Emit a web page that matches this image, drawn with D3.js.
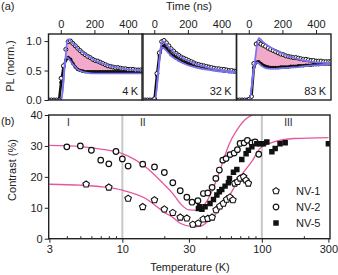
<!DOCTYPE html>
<html>
<head>
<meta charset="utf-8">
<script src="https://cdn.jsdelivr.net/npm/d3@7"></script>
<style>
    body { margin: 0; background: #fff; }
    svg text { font-family: "Liberation Sans", Arial, sans-serif; fill: #222; }
</style>
</head>
<body>
<svg id="chart" width="338" height="275"></svg>
<script>
// ---- (a) PL transients ----
var timeNs = [-70, -55, -40, -25, -10, 2, 16, 30, 44, 58, 72, 86, 100, 115, 130, 145, 160, 175, 190, 205,
    220, 235, 250, 265, 280, 295, 310, 325, 340, 355, 370, 385, 400, 415, 430, 445, 460, 475, 488];

var pl4kUpper = [0, 0, 0, 0, 0, 0.37, 0.58, 0.86, 0.99, 1.0, 0.96, 0.92, 0.88, 0.84, 0.80, 0.77, 0.74, 0.72, 0.69, 0.67,
    0.66, 0.64, 0.62, 0.60, 0.58, 0.57, 0.56, 0.55, 0.55, 0.54, 0.53, 0.53, 0.52, 0.52, 0.52, 0.51, 0.51, 0.51, 0.51];
var pl4kLower = [0, 0, 0, 0, 0, 0.30, 0.55, 0.68, 0.72, 0.69, 0.62, 0.56, 0.52, 0.50, 0.49, 0.48, 0.48, 0.48, 0.48, 0.48,
    0.48, 0.48, 0.48, 0.48, 0.48, 0.48, 0.48, 0.48, 0.48, 0.48, 0.48, 0.48, 0.48, 0.48, 0.48, 0.48, 0.48, 0.48, 0.48];

var pl32kUpper = [0, 0, 0, 0, 0, 0.02, 0.45, 0.80, 0.99, 1.01, 0.97, 0.92, 0.87, 0.83, 0.79, 0.76, 0.73, 0.71, 0.69, 0.67,
    0.65, 0.63, 0.61, 0.60, 0.59, 0.58, 0.57, 0.56, 0.55, 0.54, 0.53, 0.53, 0.52, 0.52, 0.51, 0.50, 0.50, 0.49, 0.49];
var pl32kLower = [0, 0, 0, 0, 0, 0.02, 0.42, 0.75, 0.90, 0.92, 0.87, 0.82, 0.77, 0.74, 0.71, 0.68, 0.66, 0.64, 0.63, 0.62,
    0.61, 0.60, 0.59, 0.58, 0.57, 0.56, 0.55, 0.54, 0.53, 0.52, 0.51, 0.50, 0.50, 0.49, 0.49, 0.48, 0.48, 0.48, 0.48];

var pl83kUpper = [0, 0, 0, 0, 0, 0.01, 0.06, 0.62, 0.95, 0.98, 0.95, 0.93, 0.91, 0.88, 0.86, 0.84, 0.82, 0.80, 0.78, 0.77,
    0.75, 0.74, 0.73, 0.72, 0.72, 0.71, 0.70, 0.69, 0.69, 0.68, 0.67, 0.67, 0.66, 0.66, 0.66, 0.65, 0.65, 0.65, 0.65];
var pl83kLower = [0, 0, 0, 0, 0, 0.01, 0.06, 0.55, 0.64, 0.65, 0.62, 0.59, 0.57, 0.56, 0.55, 0.55, 0.55, 0.55, 0.56, 0.56,
    0.56, 0.56, 0.57, 0.57, 0.57, 0.58, 0.58, 0.58, 0.59, 0.59, 0.59, 0.60, 0.60, 0.60, 0.61, 0.61, 0.61, 0.61, 0.61];

var fitTimeNs = [-73, 3, 30, 40, 50, 60, 80, 100, 130, 160, 200, 250, 300, 350, 400, 450, 489];
var fit4kUpper = [0, 0, 0.78, 1.03, 1.03, 1.0, 0.94, 0.88, 0.81, 0.75, 0.68, 0.62, 0.57, 0.54, 0.52, 0.51, 0.50];
var fit4kLower = [0, 0, 0.72, 0.72, 0.69, 0.65, 0.58, 0.52, 0.48, 0.46, 0.45, 0.45, 0.45, 0.45, 0.45, 0.45, 0.45];
var fit32kUpper = [0, 0, 0.66, 0.92, 1.0, 0.98, 0.92, 0.86, 0.79, 0.73, 0.67, 0.61, 0.57, 0.53, 0.51, 0.49, 0.48];
var fit32kLower = [0, 0, 0.64, 0.87, 0.89, 0.87, 0.81, 0.75, 0.69, 0.64, 0.59, 0.55, 0.52, 0.50, 0.48, 0.47, 0.46];
var fit83kUpper = [0, 0, 0.52, 0.74, 0.96, 1.05, 1.0, 0.95, 0.89, 0.84, 0.79, 0.73, 0.69, 0.66, 0.64, 0.63, 0.62];
var fit83kLower = [0, 0, 0.52, 0.62, 0.64, 0.62, 0.57, 0.54, 0.53, 0.53, 0.54, 0.55, 0.56, 0.58, 0.59, 0.60, 0.61];

var panelLabels = ['4\u2009K', '32\u2009K', '83\u2009K'];
var timeTicks = [0, 200, 400];
var plTicks = [0, 0.5, 1.0];

// ---- (b) contrast vs temperature ----
var nv1Temp = [5.5, 8, 11, 14, 17, 20, 23, 26, 29, 32, 35, 38, 41, 44, 47, 50, 53, 56, 59, 62, 64, 67, 70, 74, 77, 80];
var nv1Contrast = [17.6, 16.6, 13.0, 10.3, 12.5, 9.5, 8.4, 6.9, 6.6, 4.6, 5.0, 6.3, 6.5, 6.9, 9.3, 10.5, 11.4, 12.7, 13.4,
    12.5, 17.9, 18.4, 19.5, 20.0, 18.9, 17.9];

var nv2Temp = [4, 5, 6, 7, 8, 9, 10, 11, 14, 17, 20, 23, 26, 29, 31.6, 34.8, 38.1, 41, 44, 46.8, 49.6, 52.5, 55.4, 59.2,
    63.3, 66.8, 69.8, 74.6, 78.8, 84.8, 89.5, 95];
var nv2Contrast = [29.7, 30, 28.6, 25.4, 24.2, 28.2, 25.8, 23.5, 24.1, 23.2, 21.4, 18.1, 15.5, 13.4, 11.8, 12.3, 14.6,
    14.8, 16.6, 19.5, 22.2, 25.4, 25.9, 27.2, 27.7, 28.8, 30.8, 31, 31.8, 31, 31.3, 27.3];

var nv5Temp = [35.1, 35.8, 37.2, 39.2, 42.5, 45, 47.6, 49.6, 51.6, 54.5, 57.6, 58.6, 62.6, 66.2, 71.8, 77.1, 80.1, 84.8,
    92, 97.2, 102.6, 108.6, 118, 124.6, 135, 147, 300];
var nv5Contrast = [9.8, 10.3, 9.5, 10.3, 11.4, 12.7, 14.1, 15.2, 15.9, 17.0, 18.1, 19.5, 21.5, 22.4, 25.6, 27.5, 28.6,
    29.7, 30.7, 30.7, 30.7, 31.3, 28.1, 29.2, 30.7, 31, 30.7];

var fitHighTemp = [3, 5, 7, 10, 14.7, 19.6, 23, 26, 30, 34.6, 40, 45, 50, 58.6, 66, 75, 85, 100];
var fitHighContrast = [30.2, 29.8, 29.0, 27.5, 23.2, 17.9, 14.6, 11.4, 9.3, 9.2, 11.9, 16.5, 22, 30.8, 35, 38.3, 40, 41];
var fitLowTemp = [3, 5, 7, 10, 14.7, 20, 23, 26, 32, 36, 42, 50, 56, 70, 86, 97, 122, 170, 300];
var fitLowContrast = [17.6, 17.3, 16.8, 15.7, 13, 8.5, 6.9, 5.0, 3.9, 4.0, 6.0, 9.5, 12.5, 20, 25.4, 29.2, 31.3, 32.4, 32.7];

var tempTicks = [3, 10, 30, 100, 300];
var tempMinorTicks = [4, 5, 6, 7, 8, 9, 20, 40, 50, 60, 70, 80, 90, 200];
var contrastTicks = [0, 10, 20, 30, 40];
var regionTemps = [10, 100];
var regionLabels = [{t: 4.1, text: 'I'}, {t: 14, text: 'II'}, {t: 155, text: 'III'}];
var legendItems = ['NV-1', 'NV-2', 'NV-5'];

(function () {
    'use strict';

    var BLUE = '#7b72ee', PINK_FILL = '#f3a9ca', PINK = '#e8559f', INK = '#222';
    var svg = d3.select('#chart');
    var defs = svg.append('defs');

    function zip(xs, ys) {
        return xs.map(function (x, i) { return [x, ys[i]]; });
    }

    function pentagon(r) {
        var p = d3.path();
        for (var k = 0; k < 5; k++) {
            var a = -Math.PI / 2 + k * 2 * Math.PI / 5;
            if (k === 0) p.moveTo(r * Math.cos(a), r * Math.sin(a));
            else p.lineTo(r * Math.cos(a), r * Math.sin(a));
        }
        p.closePath();
        return p.toString();
    }

    // ===== panel (a) =====
    var panelTop = 34, panelBottom = 100, panelW = 94.5;
    var panelLeft = [48.5, 142, 236.5];
    var yPL = d3.scaleLinear().domain([0, 1.12]).range([panelBottom, panelTop]);

    var traces = [
        {upper: pl4kUpper, lower: pl4kLower, fitU: fit4kUpper, fitL: fit4kLower},
        {upper: pl32kUpper, lower: pl32kLower, fitU: fit32kUpper, fitL: fit32kLower},
        {upper: pl83kUpper, lower: pl83kLower, fitU: fit83kUpper, fitL: fit83kLower}
    ];

    traces.forEach(function (tr, i) {
        var x = d3.scaleLinear().domain([-73, 489]).range([panelLeft[i], panelLeft[i] + panelW]);
        var clipId = 'clip-a' + i;
        defs.append('clipPath').attr('id', clipId).append('rect')
            .attr('x', panelLeft[i]).attr('y', panelTop - 2)
            .attr('width', panelW).attr('height', panelBottom - panelTop + 2);

        var g = svg.append('g').attr('clip-path', 'url(#' + clipId + ')');

        var fitPts = fitTimeNs.map(function (t, k) { return {t: t, u: tr.fitU[k], l: tr.fitL[k]}; });
        g.append('path')
            .datum(fitPts)
            .attr('fill', PINK_FILL)
            .attr('d', d3.area()
                .x(function (d) { return x(d.t); })
                .y0(function (d) { return yPL(d.l); })
                .y1(function (d) { return yPL(d.u); })
                .curve(d3.curveMonotoneX));

        // lower trace: dense filled markers
        var lowerPts = zip(timeNs, tr.lower);
        g.append('path')
            .datum(lowerPts)
            .attr('fill', 'none')
            .attr('stroke', '#111')
            .attr('stroke-width', 2.6)
            .attr('d', d3.line()
                .x(function (d) { return x(d[0]); })
                .y(function (d) { return yPL(d[1]); }));
        g.selectAll('.lower-dot')
            .data(lowerPts)
            .enter()
            .append('circle')
            .attr('class', 'lower-dot')
            .attr('cx', function (d) { return x(d[0]); })
            .attr('cy', function (d) { return yPL(d[1]); })
            .attr('r', 1.8)
            .attr('fill', '#111');

        g.selectAll('.upper-dot')
            .data(zip(timeNs, tr.upper))
            .enter()
            .append('circle')
            .attr('class', 'upper-dot')
            .attr('cx', function (d) { return x(d[0]); })
            .attr('cy', function (d) { return yPL(d[1]); })
            .attr('r', 2)
            .attr('fill', '#fff')
            .attr('stroke', '#111')
            .attr('stroke-width', 1);

        [tr.fitU, tr.fitL].forEach(function (vals) {
            g.append('path')
                .datum(zip(fitTimeNs, vals))
                .attr('fill', 'none')
                .attr('stroke', BLUE)
                .attr('stroke-width', 1.7)
                .attr('d', d3.line()
                    .x(function (d) { return x(d[0]); })
                    .y(function (d) { return yPL(d[1]); })
                    .curve(d3.curveMonotoneX));
        });

        // frame
        svg.append('rect')
            .attr('x', panelLeft[i]).attr('y', panelTop)
            .attr('width', panelW).attr('height', panelBottom - panelTop)
            .attr('fill', 'none').attr('stroke', INK).attr('stroke-width', 1.4);

        // top time axis
        var ax = svg.append('g')
            .attr('transform', 'translate(0,' + panelTop + ')')
            .call(d3.axisTop(x).tickValues(timeTicks).tickSize(4).tickPadding(2));
        ax.select('.domain').remove();
        ax.selectAll('line').attr('stroke', INK);
        ax.selectAll('text').attr('font-size', 11).attr('fill', INK);

        svg.append('text')
            .attr('x', panelLeft[i] + panelW - 5)
            .attr('y', panelBottom - 5)
            .attr('text-anchor', 'end')
            .attr('font-size', 11)
            .text(panelLabels[i]);
    });

    var ayPL = svg.append('g')
        .attr('transform', 'translate(' + panelLeft[0] + ',0)')
        .call(d3.axisLeft(yPL).tickValues(plTicks).tickFormat(d3.format('.1f')).tickSize(4).tickPadding(3));
    ayPL.select('.domain').remove();
    ayPL.selectAll('line').attr('stroke', INK);
    ayPL.selectAll('text').attr('font-size', 11).attr('fill', INK);

    svg.append('text').attr('x', 1).attr('y', 10).attr('font-size', 11).text('(a)');
    svg.append('text').attr('x', 189).attr('y', 10).attr('text-anchor', 'middle').attr('font-size', 11).text('Time (ns)');
    svg.append('text')
        .attr('transform', 'translate(14,66) rotate(-90)')
        .attr('text-anchor', 'middle').attr('font-size', 11)
        .text('PL (norm.)');

    // ===== panel (b) =====
    var bLeft = 48.7, bRight = 330, bTop = 115, bBottom = 238.7;
    var xT = d3.scaleLog().domain([3, 300]).range([49.4, 328.4]);
    var yC = d3.scaleLinear().domain([0, 40]).range([bBottom, bTop]);

    defs.append('clipPath').attr('id', 'clip-b').append('rect')
        .attr('x', bLeft).attr('y', bTop).attr('width', bRight - bLeft).attr('height', bBottom - bTop);

    var gb = svg.append('g');
    var gc = gb.append('g').attr('clip-path', 'url(#clip-b)');

    gc.selectAll('.region-line')
        .data(regionTemps)
        .enter()
        .append('line')
        .attr('class', 'region-line')
        .attr('x1', function (d) { return xT(d); })
        .attr('x2', function (d) { return xT(d); })
        .attr('y1', bTop).attr('y2', bBottom)
        .attr('stroke', '#c8c8c8').attr('stroke-width', 2);

    gb.selectAll('.region-label')
        .data(regionLabels)
        .enter()
        .append('text')
        .attr('class', 'region-label')
        .attr('x', function (d) { return xT(d.t); })
        .attr('y', 126)
        .attr('text-anchor', 'middle')
        .attr('font-size', 10)
        .text(function (d) { return d.text; });

    var fitLine = d3.line()
        .x(function (d) { return xT(d[0]); })
        .y(function (d) { return yC(d[1]); })
        .curve(d3.curveMonotoneX);

    [zip(fitHighTemp, fitHighContrast), zip(fitLowTemp, fitLowContrast)].forEach(function (pts) {
        gc.append('path')
            .datum(pts)
            .attr('fill', 'none')
            .attr('stroke', PINK)
            .attr('stroke-width', 1.3)
            .attr('d', fitLine);
    });

    var pent = pentagon(3.4);
    var square = d3.symbol(d3.symbolSquare).size(30)();

    gc.selectAll('.nv1')
        .data(zip(nv1Temp, nv1Contrast))
        .enter()
        .append('path')
        .attr('class', 'nv1')
        .attr('transform', function (d) { return 'translate(' + xT(d[0]) + ',' + yC(d[1]) + ')'; })
        .attr('d', pent)
        .attr('fill', '#fff').attr('stroke', '#111').attr('stroke-width', 1.1);

    gc.selectAll('.nv2')
        .data(zip(nv2Temp, nv2Contrast))
        .enter()
        .append('circle')
        .attr('class', 'nv2')
        .attr('cx', function (d) { return xT(d[0]); })
        .attr('cy', function (d) { return yC(d[1]); })
        .attr('r', 2.8)
        .attr('fill', '#fff').attr('stroke', '#111').attr('stroke-width', 1.2);

    gc.selectAll('.nv5')
        .data(zip(nv5Temp, nv5Contrast))
        .enter()
        .append('path')
        .attr('class', 'nv5')
        .attr('transform', function (d) { return 'translate(' + xT(d[0]) + ',' + yC(d[1]) + ')'; })
        .attr('d', square)
        .attr('fill', '#111');

    // frame
    gb.append('rect')
        .attr('x', bLeft).attr('y', bTop)
        .attr('width', bRight - bLeft).attr('height', bBottom - bTop)
        .attr('fill', 'none').attr('stroke', INK).attr('stroke-width', 1.4);

    // axes
    var axB = gb.append('g')
        .attr('transform', 'translate(0,' + bBottom + ')')
        .call(d3.axisBottom(xT).tickValues(tempTicks).tickFormat(d3.format('d')).tickSize(4).tickPadding(3));
    axB.select('.domain').remove();
    axB.selectAll('line').attr('stroke', INK);
    axB.selectAll('text').attr('font-size', 11).attr('fill', INK);

    var axMinor = gb.append('g')
        .attr('transform', 'translate(0,' + bBottom + ')')
        .call(d3.axisBottom(xT).tickValues(tempMinorTicks).tickFormat('').tickSize(-2.5));
    axMinor.select('.domain').remove();
    axMinor.selectAll('line').attr('stroke', INK);

    var ayC = gb.append('g')
        .attr('transform', 'translate(' + bLeft + ',0)')
        .call(d3.axisLeft(yC).tickValues(contrastTicks).tickSize(4).tickPadding(2));
    ayC.select('.domain').remove();
    ayC.selectAll('line').attr('stroke', INK);
    ayC.selectAll('text').attr('font-size', 11).attr('fill', INK);

    svg.append('text').attr('x', 1).attr('y', 125).attr('font-size', 11).text('(b)');
    svg.append('text').attr('x', 190).attr('y', 271).attr('text-anchor', 'middle').attr('font-size', 11).text('Temperature (K)');
    svg.append('text')
        .attr('transform', 'translate(16,170) rotate(-90)')
        .attr('text-anchor', 'middle').attr('font-size', 11)
        .text('Contrast (%)');

    // legend
    var legend = gb.append('g').attr('transform', 'translate(276,191)');
    var rows = legend.selectAll('g')
        .data(legendItems)
        .enter()
        .append('g')
        .attr('transform', function (d, k) { return 'translate(0,' + (k * 16) + ')'; });
    rows.each(function (d, k) {
        var row = d3.select(this);
        if (k === 0) {
            row.append('path').attr('d', pent).attr('fill', '#fff').attr('stroke', '#111').attr('stroke-width', 1.1);
        } else if (k === 1) {
            row.append('circle').attr('r', 2.8).attr('fill', '#fff').attr('stroke', '#111').attr('stroke-width', 1.2);
        } else {
            row.append('path').attr('d', square).attr('fill', '#111');
        }
        row.append('text')
            .attr('x', 20).attr('y', 4)
            .attr('font-size', 11)
            .text(d);
    });
})();
</script>
</body>
</html>
